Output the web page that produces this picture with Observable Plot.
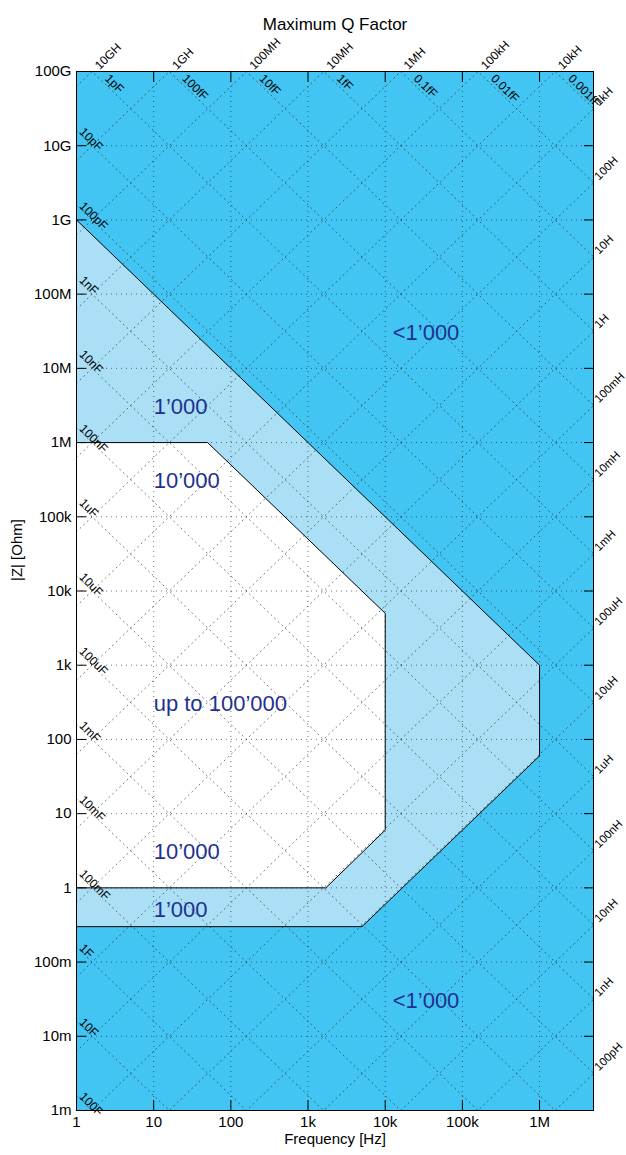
<!DOCTYPE html>
<html><head><meta charset="utf-8">
<script src="https://cdn.jsdelivr.net/npm/d3@7"></script>
<script src="https://cdn.jsdelivr.net/npm/@observablehq/plot@0.6"></script>
<style>body{margin:0;background:#fff;} svg{display:block;overflow:visible}</style>
</head><body><div id="chart"></div>
<script>
// Axis ticks
const xTicks = [1, 10, 100, 1e3, 1e4, 1e5, 1e6];
const xTickLabels = ["1", "10", "100", "1k", "10k", "100k", "1M"];
const yTicks = [1e-3, 1e-2, 1e-1, 1, 10, 100, 1e3, 1e4, 1e5, 1e6, 1e7, 1e8, 1e9, 1e10, 1e11];
const yTickLabels = ["1m", "10m", "100m", "1", "10", "100", "1k", "10k", "100k", "1M", "10M", "100M", "1G", "10G", "100G"];
const freqDomain = [1, 5e6];
const zDomain = [1e-3, 1e11];

// Capacitance / inductance reference lines
const capValues = [1e-18, 1e-17, 1e-16, 1e-15, 1e-14, 1e-13, 1e-12, 1e-11, 1e-10, 1e-9, 1e-8, 1e-7, 1e-6, 1e-5, 1e-4, 1e-3, 1e-2, 1e-1, 1, 10, 100];
const capLabels = ["0.001fF", "0.01fF", "0.1fF", "1fF", "10fF", "100fF", "1pF", "10pF", "100pF", "1nF", "10nF", "100nF", "1uF", "10uF", "100uF", "1mF", "10mF", "100mF", "1F", "10F", "100F"];
const indValues = [1e-10, 1e-9, 1e-8, 1e-7, 1e-6, 1e-5, 1e-4, 1e-3, 1e-2, 1e-1, 1, 10, 100, 1e3, 1e4, 1e5, 1e6, 1e7, 1e8, 1e9, 1e10];
const indLabels = ["100pH", "1nH", "10nH", "100nH", "1uH", "10uH", "100uH", "1mH", "10mH", "100mH", "1H", "10H", "100H", "1kH", "10kH", "100kH", "1MH", "10MH", "100MH", "1GH", "10GH"];

// Q regions (frequency [Hz], |Z| [Ohm])
const q1000Freq = [1, 1e6, 1e6, 5e3, 1];
const q1000Z = [1e9, 1e3, 60, 0.3, 0.3];
const q10000Freq = [1, 50, 1e4, 1e4, 1700, 1];
const q10000Z = [1e6, 1e6, 5e3, 6, 1, 1];

// Region labels
const regionText = ["<1’000", "1’000", "10’000", "up to 100’000", "10’000", "1’000", "<1’000"];
const regionFreq = [12500, 10, 10, 10, 10, 10, 12500];
const regionZ = [3e7, 3e6, 3e5, 300, 3, 0.5, 0.03];

const DARK = "rgb(67,197,244)";
const LIGHT = "rgb(170,223,246)";
const NAVY = "#1f318f";
const GRID = "#1a1a1a";

const poly1 = q1000Freq.map((f, i) => ({f, z: q1000Z[i]}));
const poly2 = q10000Freq.map((f, i) => ({f, z: q10000Z[i]}));
const regions = regionText.map((t, i) => ({t, f: regionFreq[i], z: regionZ[i]}));

const [fMin, fMax] = freqDomain, [zMin, zMax] = zDomain;
const diag = [];
const capTop = [], capLeft = [], indTop = [], indRight = [];
capValues.forEach((C, i) => {
  const zc = f => 1 / (2 * Math.PI * f * C);
  diag.push({id: "c" + i, f: fMin, z: zc(fMin)}, {id: "c" + i, f: fMax, z: zc(fMax)});
  const ft = 1 / (2 * Math.PI * C * zMax);
  if (ft >= fMin) capTop.push({f: ft, z: zMax, t: capLabels[i]});
  else capLeft.push({f: fMin, z: zc(fMin), t: capLabels[i]});
});
indValues.forEach((L, i) => {
  const zl = f => 2 * Math.PI * f * L;
  diag.push({id: "l" + i, f: fMin, z: zl(fMin)}, {id: "l" + i, f: fMax, z: zl(fMax)});
  const ft = zMax / (2 * Math.PI * L);
  if (ft <= fMax) indTop.push({f: ft, z: zMax, t: indLabels[i]});
  else indRight.push({f: fMax, z: zl(fMax), t: indLabels[i]});
});

const xLab = new Map(xTicks.map((t, i) => [t, xTickLabels[i]]));
const yLab = new Map(yTicks.map((t, i) => [t, yTickLabels[i]]));
const dots = "1,4";
const gridStyle = {stroke: GRID, strokeOpacity: 0.6, strokeDasharray: dots, strokeWidth: 1};

const chart = Plot.plot({
  width: 626, height: 1155,
  marginTop: 71, marginBottom: 45, marginLeft: 76, marginRight: 33,
  x: {type: "log", domain: freqDomain},
  y: {type: "log", domain: zDomain},
  style: {fontFamily: "'Liberation Sans', Arial, sans-serif", fontSize: "15px", color: "black", background: "white"},
  marks: [
    Plot.frame({fill: DARK, stroke: null}),
    Plot.line(poly1, {x: "f", y: "z", fill: LIGHT, stroke: "black", strokeWidth: 1}),
    Plot.line(poly2, {x: "f", y: "z", fill: "white", stroke: "black", strokeWidth: 1}),
    Plot.ruleX(xTicks.slice(1), gridStyle),
    Plot.ruleY(yTicks.slice(1, -1), gridStyle),
    Plot.line(diag, {x: "f", y: "z", z: "id", clip: true, ...gridStyle}),
    Plot.text(capTop, {x: "f", y: "z", text: "t", rotate: 45, textAnchor: "start", dx: 15, dy: 5, fontSize: 12}),
    Plot.text(capLeft, {x: "f", y: "z", text: "t", rotate: 45, textAnchor: "start", dx: 5, dy: -1, fontSize: 12}),
    Plot.text(indTop, {x: "f", y: "z", text: "t", rotate: -45, textAnchor: "start", dx: 5, dy: -4, fontSize: 12}),
    Plot.text(indRight, {x: "f", y: "z", text: "t", rotate: -45, textAnchor: "start", dx: 3, dy: -5, fontSize: 11.5}),
    Plot.text(regions, {x: "f", y: "z", text: "t", textAnchor: "start", fill: NAVY, fontSize: 22}),
    Plot.frame({stroke: "black", strokeWidth: 1}),
    Plot.axisX({anchor: "bottom", ticks: xTicks, tickSize: 0, tickPadding: 6, tickFormat: d => xLab.get(d), label: null}),
    Plot.axisX({anchor: "bottom", ticks: xTicks, tickSize: -10, tickFormat: () => "", label: null}),
    Plot.axisX({anchor: "top", ticks: xTicks, tickSize: -10, tickFormat: () => "", label: null}),
    Plot.axisY({anchor: "left", ticks: yTicks, tickSize: 0, tickPadding: 5, tickFormat: d => yLab.get(d), label: null}),
    Plot.axisY({anchor: "left", ticks: yTicks, tickSize: -10, tickFormat: () => "", label: null}),
    Plot.axisY({anchor: "right", ticks: yTicks, tickSize: -10, tickFormat: () => "", label: null}),
    Plot.text(["Maximum Q Factor"], {frameAnchor: "top", text: d => d, dy: -54, fontSize: 17}),
    Plot.text(["Frequency [Hz]"], {frameAnchor: "bottom", text: d => d, dy: 33, fontSize: 15}),
    Plot.text(["|Z| [Ohm]"], {frameAnchor: "left", text: d => d, rotate: -90, dx: -59, dy: -10, fontSize: 15})
  ]
});
document.getElementById("chart").append(chart);
</script>
</body></html>
